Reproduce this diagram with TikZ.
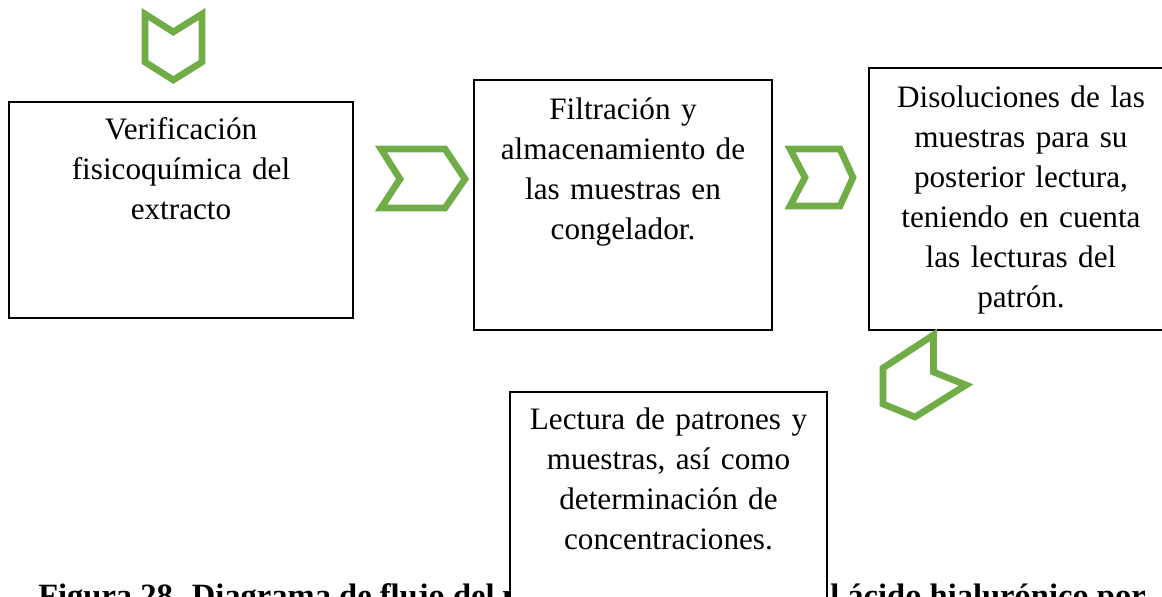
\documentclass[tikz,border=0pt]{standalone}
\usepackage{fontspec}
\setmainfont{Liberation Serif}
\definecolor{verde}{RGB}{112,173,71}

\begin{document}
\begin{tikzpicture}[x=0.75pt,y=-0.75pt]
        \useasboundingbox (0,0) rectangle (1162,596);
        \clip (0,0) rectangle (1162,596);
        \begin{scope}[every node/.style={inner sep=0}, caja/.style={draw, line width=1pt, fill=white}, texto/.style={text width=250pt, align=center, anchor=base, font=\fontsize{23.4}{30}\selectfont}, pie/.style={anchor=base west, font=\bfseries\fontsize{24.4}{30}\selectfont}, cheuron/.style={draw=verde, line width=5pt, line join=miter}]
                \node[pie] (pie1) at (38,606) {Figura 28. Diagrama de flujo del p};
                \node[pie] (pie2) at (830,606) {l ácido hialurónico por};

                \node[caja, minimum width=258pt, minimum height=162pt] (verif) at (181,210) {};
                \node[caja, minimum width=223.5pt, minimum height=187.5pt] (filtr) at (623,205) {};
                \node[caja, minimum width=228pt, minimum height=196.5pt] (disol) at (1021,199) {};
                \node[caja, minimum width=237.75pt, minimum height=171pt] (lect) at (668.5,506) {};

                \node[texto] (verif-t) at ([yshift=-28.5pt]verif.north) {Verificación\\ fisicoquímica del\\ extracto};
                \node[texto] (filtr-t) at ([yshift=-30pt]filtr.north) {Filtración y\\ almacenamiento de\\ las muestras en\\ congelador.};
                \node[texto] (disol-t) at ([yshift=-30pt]disol.north) {Disoluciones de las\\ muestras para su\\ posterior lectura,\\ teniendo en cuenta\\ las lecturas del\\ patrón.};
                \node[texto] (lect-t) at ([yshift=-28.5pt]lect.north) {Lectura de patrones y\\ muestras, así como\\ determinación de\\ concentraciones.};

                \draw[cheuron] (145,14) -- (173.3,32) -- (202,14) -- (202,62) -- (173.3,80) -- (145,62) -- cycle;
                \draw[cheuron] (381,149) -- (445,149) -- (465,179) -- (445,208) -- (381,208) -- (400,179) -- cycle;
                \draw[cheuron] (790,149) -- (840,149) -- (853,177.5) -- (840,206) -- (790,206) -- (805,177.5) -- cycle;
                \draw[cheuron] (933.5,335) -- (933.5,372) -- (966,385) -- (915,417) -- (883,404) -- (883,368) -- cycle;
        \end{scope}
\end{tikzpicture}
\end{document}
